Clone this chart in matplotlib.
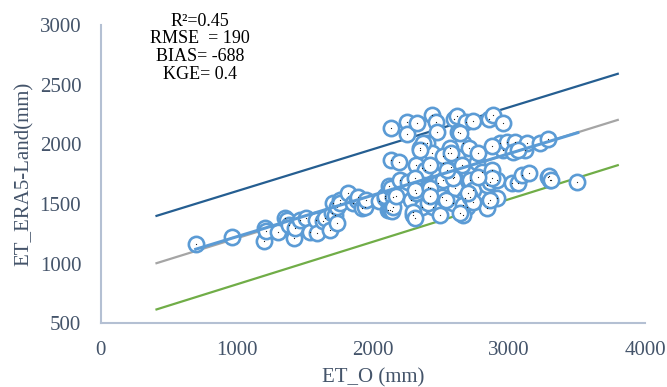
import numpy as np
from matplotlib import pyplot as plt

plt.rcParams['font.family'] = ['Liberation Serif', 'DejaVu Serif']

# Scatter points: ET_O (mm) vs ET_ERA5-Land (mm)
et_o = [698, 964, 1199, 1206, 1214, 1304, 1353, 1366, 1387, 1418, 1427, 1464, 1512, 1537,
        1580, 1590, 1637, 1647, 1684, 1700, 1709, 1721, 1733, 1733, 1758, 1762, 1819, 1856,
        1880, 1892, 1919, 1942, 1950, 2044, 2088, 2091, 2112, 2122, 2125, 2138, 2137, 2149,
        2150, 2169, 2199, 2137, 2193, 2137, 2253, 2253, 2326, 2432, 2463, 2473, 2596, 2615,
        2684, 2738, 2856, 2880, 2959, 2628,
        2346, 2400, 2432, 2358, 2316, 2383, 2260, 2284, 2297, 2316, 2358, 2407, 2444, 2481,
        2505, 2517, 2554, 2571, 2596, 2603, 2615, 2652, 2664, 2677, 2689, 2709, 2713, 2738,
        2762, 2775, 2799, 2660, 2591, 2836, 2860, 2873, 2910, 2910, 2848, 2836, 2934, 2959,
        2983, 3044, 3032, 3118, 3130, 3020, 3069, 3093, 3150, 3228, 3289, 3289, 3302, 3498,
        2370, 2345, 2566, 2308, 2308, 2419, 2517, 2590, 2296, 2406, 2541, 2664, 2713, 2308,
        2492, 2639, 2419, 3068, 2872, 2860, 2738, 2774, 2419, 2513, 2545, 2576, 2639, 2701,
        2873, 3296, 3312]
et_era5 = [1162, 1221, 1190, 1295, 1274, 1267, 1378, 1364, 1325, 1212, 1295, 1364, 1381, 1267,
           1367, 1254, 1353, 1378, 1283, 1423, 1504, 1406, 1336, 1476, 1532, 1508, 1588, 1508,
           1532, 1560, 1466, 1476, 1536, 1522, 1546, 1564, 1448, 1649, 1448, 1437, 1630, 1560,
           1476, 1564, 1700, 1868, 1854, 2141, 2189, 2091, 2181, 2245, 2189, 2105, 2209, 2237,
           2189, 2198, 2209, 2245, 2175, 2105,
           1966, 2013, 1924, 1798, 1826, 1784, 1686, 1532, 1406, 1588, 1476, 1644, 1476, 1672,
           1560, 1840, 1924, 1812, 1728, 1630, 1896, 1826, 2008, 1546, 1476, 1966, 1700, 1616,
           1854, 1924, 1770, 1406, 1504, 1658, 1686, 1784, 1700, 1546, 1504, 1462, 2008, 1952,
           2022, 2022, 1938, 1952, 2008, 1672, 1672, 1742, 1756, 2008, 2049, 1728, 1700, 1686,
           2008, 1952, 1966, 1714, 1616, 1630, 1700, 1714, 1434, 1504, 1532, 1490, 1560, 1378,
           1406, 1420, 1826, 1952, 1714, 1532, 1518, 1728, 1564, 1902, 1789, 1930, 2099, 1592,
           1986, 1733, 1705]

# Reference lines (upper bound, 1:1 shifted, lower bound) and trendline
line_x = [410, 3800]
upper_y = [1400, 2592]
middle_y = [1003, 2205]
lower_y = [615, 1825]
trend_x = [698, 3506]
trend_y = [1120, 2098]

stats = "R²=0.45\nRMSE  = 190\nBIAS= -688\nKGE= 0.4"

fig = plt.figure(figsize=(6.67, 3.87), dpi=100)
ax = fig.add_axes([0.151, 0.165, 0.816, 0.77])

ax.plot(line_x, upper_y, color='#255e91', lw=1.6, zorder=1)
ax.plot(line_x, middle_y, color='#a5a5a5', lw=1.6, zorder=1)
ax.plot(line_x, lower_y, color='#70ad47', lw=1.6, zorder=1)
ax.plot(et_o, et_era5, 'o', ms=11, mfc='white', mec='#5b9bd5', mew=1.9, zorder=2)
ax.plot(et_o, et_era5, 's', ms=0.8, mew=0, color='#222222', zorder=3)
ax.plot(trend_x, trend_y, color='#5b9bd5', lw=2.2, zorder=4)

ax.set_xlim(0, 4000)
ax.set_ylim(500, 3000)
ax.set_xticks([0, 1000, 2000, 3000, 4000])
ax.set_yticks([500, 1000, 1500, 2000, 2500, 3000])
ax.tick_params(length=0, labelsize=15, labelcolor='#44546a')
ax.tick_params(axis='x', pad=13)
ax.tick_params(axis='y', pad=14)
for s in ['top', 'right']:
    ax.spines[s].set_visible(False)
for s in ['left', 'bottom']:
    ax.spines[s].set_color('#b4c0d3')
    ax.spines[s].set_linewidth(1.5)

ax.set_xlabel('ET_O (mm)', fontsize=15, color='#44546a', labelpad=6)
ax.set_ylabel('ET_ERA5-Land(mm)', fontsize=15, color='#44546a', labelpad=4)

fig.text(0.30, 0.967, stats, ha='center', va='top', fontsize=13, linespacing=1.05)

plt.savefig('out.png', dpi=100)
